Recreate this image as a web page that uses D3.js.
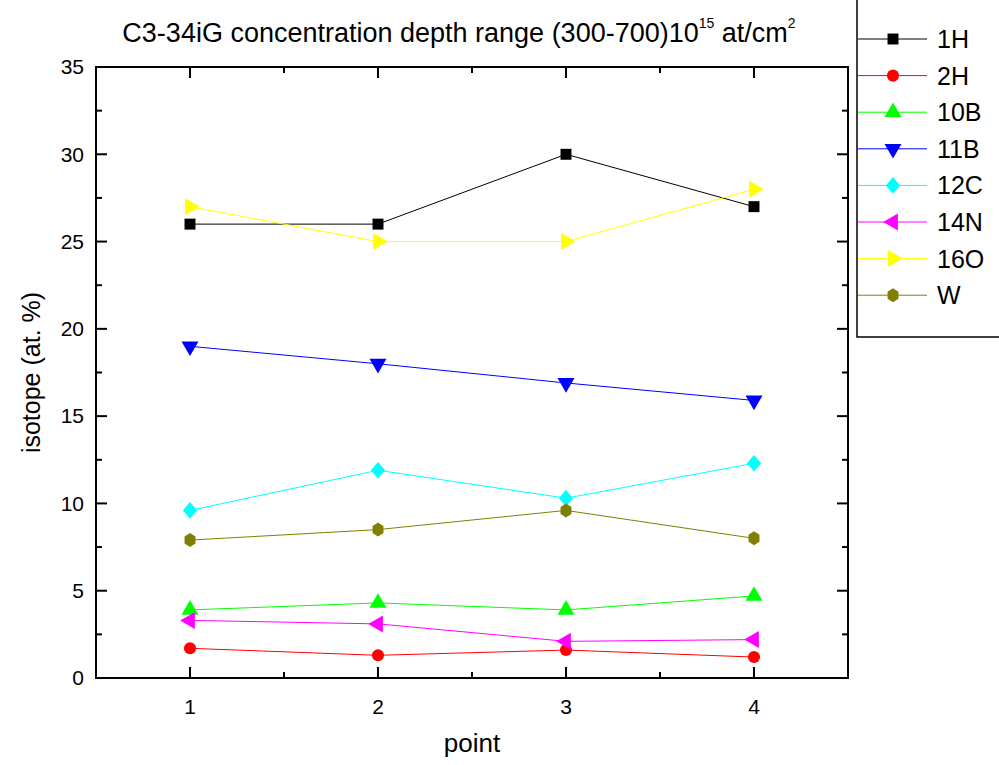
<!DOCTYPE html>
<html>
<head>
<meta charset="utf-8">
<script src="https://cdn.jsdelivr.net/npm/d3@7"></script>
<style>
  body { margin: 0; background: #fff; }
  svg { display: block; font-family: Arial, "Liberation Sans", sans-serif; }
</style>
</head>
<body>
<svg id="chart"></svg>
<script>
// Data
const points = [1, 2, 3, 4]
const seriesNames = ['1H', '2H', '10B', '11B', '12C', '14N', '16O', 'W']
const h1 = [26, 26, 30, 27]
const h2 = [1.7, 1.3, 1.6, 1.2]
const b10 = [3.9, 4.3, 3.9, 4.7]
const b11 = [19, 18, 16.9, 15.9]
const c12 = [9.6, 11.9, 10.3, 12.3]
const n14 = [3.3, 3.1, 2.1, 2.2]
const o16 = [27, 25, 25, 28]
const w = [7.9, 8.5, 9.6, 8.0]
const yTicks = [0, 5, 10, 15, 20, 25, 30, 35]

const seriesValues = [h1, h2, b10, b11, c12, n14, o16, w]
const colors = ['#000000', '#ff0000', '#00ff00', '#0000ff', '#00ffff', '#ff00ff', '#ffff00', '#808000']
const shapes = ['square', 'circle', 'up', 'down', 'diamond', 'left', 'right', 'hex']

const fullWidth = 999
const fullHeight = 765
const margin = { top: 67, right: 151, bottom: 87, left: 96 }
const width = fullWidth - margin.left - margin.right
const height = fullHeight - margin.top - margin.bottom

const svg = d3.select('#chart')
    .attr('width', fullWidth)
    .attr('height', fullHeight)

const g = svg.append('g')
    .attr('transform', `translate(${margin.left}, ${margin.top})`)

const x = d3.scaleLinear().domain([0.5, 4.5]).range([0, width])
const y = d3.scaleLinear().domain([0, 35]).range([height, 0])

// marker shapes
const hexagon = () => {
    const r = 7
    const pts = d3.range(6).map(i => {
        const a = Math.PI / 2 + i * Math.PI / 3
        return [r * 0.9 * Math.cos(a), r * Math.sin(a)]
    })
    return 'M' + pts.join('L') + 'Z'
}
const markerPath = (shape) => {
    switch (shape) {
        case 'square': return d3.symbol(d3.symbolSquare, 120)()
        case 'circle': return d3.symbol(d3.symbolCircle, 115)()
        case 'up':
        case 'down':
        case 'left':
        case 'right': return d3.symbol(d3.symbolTriangle, 125)()
        case 'diamond': return d3.symbol(d3.symbolDiamond2, 160)()
        case 'hex': return hexagon()
    }
}
const markerRot = { up: 0, down: 180, left: -90, right: 90 }
const markerTransform = (shape, px, py) =>
    `translate(${px}, ${py})` + (shape in markerRot ? ` rotate(${markerRot[shape]})` : '') +
    (shape === 'diamond' ? ' scale(0.9, 1.05)' : '')

// axes (ticks pointing inward on all four sides)
const xMajor = points
const xMinor = [0.5, 1.5, 2.5, 3.5, 4.5]
const yMinor = d3.range(2.5, 35, 5)

const frame = g.append('g').attr('class', 'frame')
    .attr('stroke', '#000').attr('stroke-width', 2)

frame.append('rect')
    .attr('width', width).attr('height', height)
    .attr('fill', 'none')

const tick = (x1, y1, x2, y2) => frame.append('line')
    .attr('x1', x1).attr('y1', y1).attr('x2', x2).attr('y2', y2)

xMajor.forEach(v => { tick(x(v), height, x(v), height - 11); tick(x(v), 0, x(v), 11) })
xMinor.forEach(v => { tick(x(v), height, x(v), height - 6); tick(x(v), 0, x(v), 6) })
yTicks.forEach(v => { tick(0, y(v), 11, y(v)); tick(width, y(v), width - 11, y(v)) })
yMinor.forEach(v => { tick(0, y(v), 6, y(v)); tick(width, y(v), width - 6, y(v)) })

g.append('g').selectAll('text')
    .data(yTicks)
    .join('text')
    .attr('x', -12)
    .attr('y', d => y(d))
    .attr('dy', '0.35em')
    .attr('text-anchor', 'end')
    .attr('font-size', 21)
    .text(d => d)

g.append('g').selectAll('text')
    .data(xMajor)
    .join('text')
    .attr('x', d => x(d))
    .attr('y', height + 36)
    .attr('text-anchor', 'middle')
    .attr('font-size', 21)
    .text(d => d)

// axis titles
svg.append('text')
    .attr('x', margin.left + width / 2)
    .attr('y', 752)
    .attr('text-anchor', 'middle')
    .attr('font-size', 26)
    .text('point')

svg.append('text')
    .attr('transform', `translate(40, ${margin.top + height / 2}) rotate(-90)`)
    .attr('text-anchor', 'middle')
    .attr('font-size', 25)
    .text('isotope (at. %)')

// title
const title = svg.append('text')
    .attr('x', 459)
    .attr('y', 42)
    .attr('text-anchor', 'middle')
    .attr('font-size', 27)
title.append('tspan').text('C3-34iG concentration depth range (300-700)10')
title.append('tspan').attr('font-size', 14).attr('dy', -14).text('15')
title.append('tspan').attr('dy', 14).text(' at/cm')
title.append('tspan').attr('font-size', 14).attr('dy', -14).text('2')

// series
const line = d3.line()
    .x((d, i) => x(points[i]))
    .y(d => y(d))

seriesValues.forEach((vals, s) => {
    const sg = g.append('g').attr('class', 'series s' + seriesNames[s])
    sg.append('path')
        .attr('d', line(vals))
        .attr('fill', 'none')
        .attr('stroke', colors[s])
        .attr('stroke-width', 1)
    sg.selectAll('path.marker')
        .data(vals)
        .join('path')
        .attr('class', 'marker')
        .attr('d', markerPath(shapes[s]))
        .attr('transform', (d, i) => markerTransform(shapes[s], x(points[i]), y(d)))
        .attr('fill', colors[s])
})

// legend
const legend = svg.append('g').attr('class', 'legend')
legend.append('rect')
    .attr('x', 857).attr('y', -2)
    .attr('width', 150).attr('height', 339)
    .attr('fill', '#fff')
    .attr('stroke', '#000')
    .attr('stroke-width', 1.5)

const items = legend.selectAll('g.item')
    .data(seriesNames)
    .join('g')
    .attr('class', 'item')
    .attr('transform', (d, i) => `translate(0, ${39 + i * 36.6})`)

items.append('line')
    .attr('x1', 858).attr('x2', 927)
    .attr('stroke', (d, i) => colors[i])
    .attr('stroke-width', 1)
items.append('path')
    .attr('d', (d, i) => markerPath(shapes[i]))
    .attr('transform', (d, i) => markerTransform(shapes[i], 893, 0))
    .attr('fill', (d, i) => colors[i])
items.append('text')
    .attr('x', 937)
    .attr('dy', '0.36em')
    .attr('font-size', 25)
    .text(d => d)
</script>
</body>
</html>
